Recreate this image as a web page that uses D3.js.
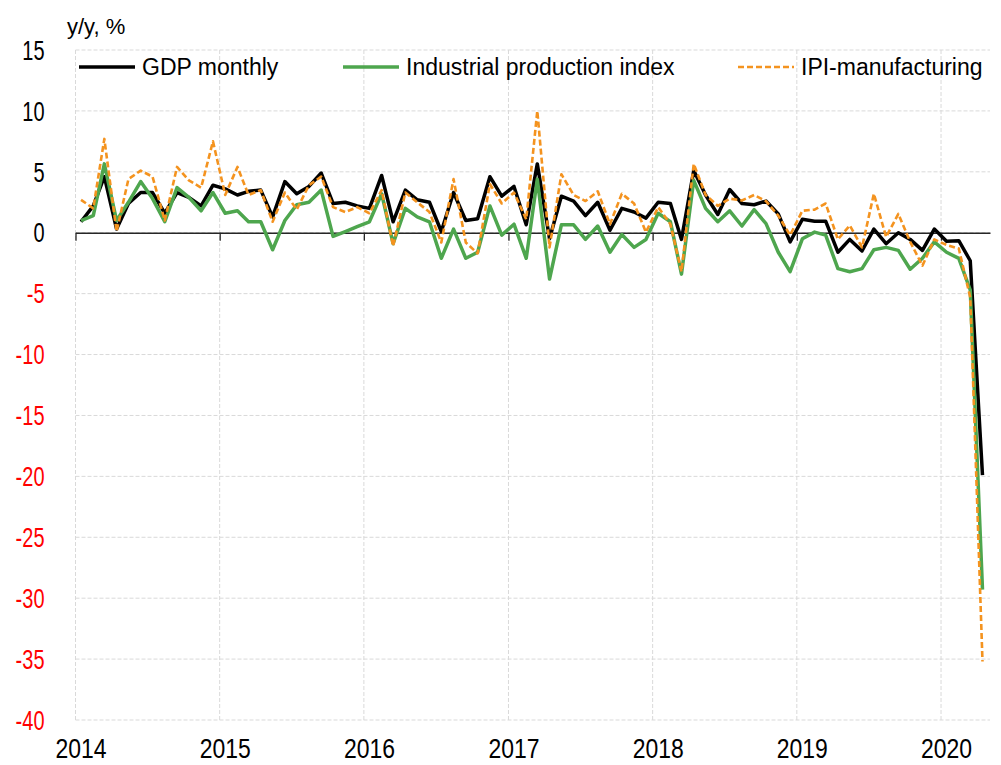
<!DOCTYPE html>
<html>
<head>
<meta charset="utf-8">
<script src="https://cdn.jsdelivr.net/npm/d3@7"></script>
<style>
  body { margin: 0; background: #fff; }
  text { font-family: "Liberation Sans", Arial, sans-serif; }
</style>
</head>
<body>
<div id="chart"></div>
<script>
// monthly observations, Jan 2014 .. Apr 2020 (y/y, %)
const startMonth = "2014-01";
const gdpMonthly = [
  0.9, 2.2, 4.6, 0.3, 2.4, 3.3, 3.3, 1.6, 3.3, 2.9, 2.2, 3.9,
  3.6, 3.1, 3.4, 3.5, 1.3, 4.2, 3.2, 3.8, 4.9, 2.4, 2.5, 2.2,
  2.0, 4.7, 0.9, 3.5, 2.7, 2.5, 0.1, 3.3, 1.0, 1.15, 4.6, 3.0,
  3.8, 0.65, 5.65, -0.5, 3.0, 2.6, 1.4, 2.5, 0.2, 2.0, 1.7, 1.2,
  2.5, 2.4, -0.55, 5.1, 3.1, 1.5, 3.55, 2.4, 2.3, 2.6, 1.55, -0.75,
  1.1, 0.95, 0.95, -1.6, -0.55, -1.5, 0.3, -0.9, 0.0, -0.55, -1.45, 0.3,
  -0.7, -0.65, -2.3, -19.9
];
const industrialProduction = [
  1.0, 1.4, 5.65, 1.0, 2.5, 4.2, 2.8, 0.9, 3.7, 2.9, 1.8, 3.3,
  1.6, 1.8, 0.9, 0.9, -1.4, 1.0, 2.3, 2.5, 3.5, -0.3, 0.1, 0.5,
  0.9, 3.2, -0.9, 2.0, 1.3, 0.9, -2.1, 0.3, -2.1, -1.6, 2.2, -0.2,
  0.7, -2.1, 4.4, -3.8, 0.65, 0.65, -0.55, 0.55, -1.6, -0.15, -1.2, -0.55,
  1.6, 0.9, -3.4, 4.3, 2.0, 0.9, 1.8, 0.55, 1.9, 0.75, -1.6, -3.2,
  -0.5, 0.05, -0.2, -2.95, -3.2, -2.95, -1.4, -1.2, -1.45, -3.0, -2.1, -0.75,
  -1.6, -2.1, -4.7, -29.3
];
const ipiManufacturing = [
  2.7, 2.0, 7.7, 0.1, 4.4, 5.1, 4.6, 1.0, 5.4, 4.3, 3.7, 7.5,
  3.1, 5.4, 3.1, 3.5, 0.9, 3.3, 1.9, 3.9, 4.6, 2.1, 1.7, 2.1,
  1.6, 3.5, -1.1, 3.3, 2.5, 1.7, -0.8, 4.4, -0.8, -1.7, 4.0, 2.4,
  3.3, 1.1, 10.0, -1.2, 4.8, 3.1, 2.6, 3.4, 0.7, 3.2, 2.4, 0.05,
  2.1, 0.7, -3.2, 5.65, 3.1, 2.2, 2.8, 2.65, 3.1, 2.6, 1.4, -0.2,
  1.8, 1.9, 2.4, -0.55, 0.6, -1.2, 3.2, -0.35, 1.55, -0.75, -2.7, -0.55,
  -1.0, -1.3, -5.3, -35.2
];
const yearLabels = ["2014", "2015", "2016", "2017", "2018", "2019", "2020"];
const yTicks = [15, 10, 5, 0, -5, -10, -15, -20, -25, -30, -35, -40];

const seriesList = [
  { name: "GDP monthly", values: gdpMonthly, color: "#000000", width: 3.5, dash: null },
  { name: "Industrial production index", values: industrialProduction, color: "#4ea64e", width: 3.5, dash: null },
  { name: "IPI-manufacturing", values: ipiManufacturing, color: "#f4931f", width: 2.6, dash: "6,3" }
];

const W = 1001, H = 765;
const margin = { top: 50, right: 11, bottom: 45, left: 75.5 };
const width = W - margin.left - margin.right;
const height = H - margin.top - margin.bottom;

const parseMonth = d3.timeParse("%Y-%m-%d");
const first = parseMonth(startMonth + "-15");
const dates = gdpMonthly.map((_, i) => d3.timeMonth.offset(first, i));

const svgRoot = d3.select("#chart")
  .append("svg")
  .attr("width", W)
  .attr("height", H);

const svg = svgRoot.append("g")
  .attr("transform", `translate(${margin.left},${margin.top})`);

const x = d3.scaleTime()
  .domain([new Date(2014, 0, 1), new Date(2020, 4, 4)])
  .range([0, width]);

const y = d3.scaleLinear()
  .domain([-40, 15])
  .range([height, 0]);

const yearStarts = yearLabels.map(s => new Date(+s, 0, 1));
const yearMids = yearLabels.map(s => new Date(+s, 0, 15));

// gridlines
svg.append("g")
  .selectAll("line")
  .data(yTicks)
  .join("line")
  .attr("x1", 0)
  .attr("x2", width)
  .attr("y1", d => y(d))
  .attr("y2", d => y(d))
  .attr("stroke", "#d9d9d9")
  .attr("stroke-width", 1)
  .attr("stroke-dasharray", "4,2");

svg.append("g")
  .selectAll("line")
  .data(yearStarts)
  .join("line")
  .attr("x1", d => x(d))
  .attr("x2", d => x(d))
  .attr("y1", 0)
  .attr("y2", height)
  .attr("stroke", "#d9d9d9")
  .attr("stroke-width", 1)
  .attr("stroke-dasharray", "4,2");

// y labels (narrow face, squeezed horizontally)
svg.append("g")
  .selectAll("text")
  .data(yTicks)
  .join("text")
  .attr("transform", d => `translate(-31,${y(d)}) scale(0.74,1)`)
  .attr("dy", "0.36em")
  .attr("text-anchor", "end")
  .style("font-size", "27px")
  .attr("fill", d => d < 0 ? "#ff0000" : "#000000")
  .text(d => d);

// x axis crossing at zero
const xAxis = svg.append("g")
  .attr("transform", `translate(0,${y(0)})`)
  .call(d3.axisBottom(x).tickValues(yearStarts).tickSize(8).tickSizeOuter(0).tickFormat(""));
xAxis.select(".domain").attr("stroke", "#262626").attr("stroke-width", 1.3);
xAxis.selectAll(".tick line").attr("stroke", "#262626").attr("stroke-width", 1.3);

svg.append("g")
  .selectAll("text")
  .data(yearMids)
  .join("text")
  .attr("transform", d => `translate(${x(d)},${height + 38}) scale(0.82,1)`)
  .attr("text-anchor", "middle")
  .style("font-size", "28px")
  .text((d, i) => yearLabels[i]);

// lines
const line = d3.line()
  .x((d, i) => x(dates[i]))
  .y(d => y(d));

seriesList.forEach(s => {
  svg.append("path")
    .datum(s.values)
    .attr("fill", "none")
    .attr("stroke", s.color)
    .attr("stroke-width", s.width)
    .attr("stroke-linejoin", "round")
    .attr("stroke-dasharray", s.dash)
    .attr("d", line);
});

// unit label
svgRoot.append("text")
  .attr("x", 67)
  .attr("y", 34)
  .style("font-size", "22px")
  .text("y/y, %");

// legend
const legendX = [79, 343, 738];
const legend = svgRoot.append("g");
seriesList.forEach((s, i) => {
  legend.append("line")
    .attr("x1", legendX[i])
    .attr("x2", legendX[i] + 56)
    .attr("y1", 67)
    .attr("y2", 67)
    .attr("stroke", s.color)
    .attr("stroke-width", s.width)
    .attr("stroke-dasharray", s.dash);
  legend.append("text")
    .attr("x", legendX[i] + 63)
    .attr("y", 67)
    .attr("dy", "0.35em")
    .style("font-size", "23px")
    .text(s.name);
});
</script>
</body>
</html>
